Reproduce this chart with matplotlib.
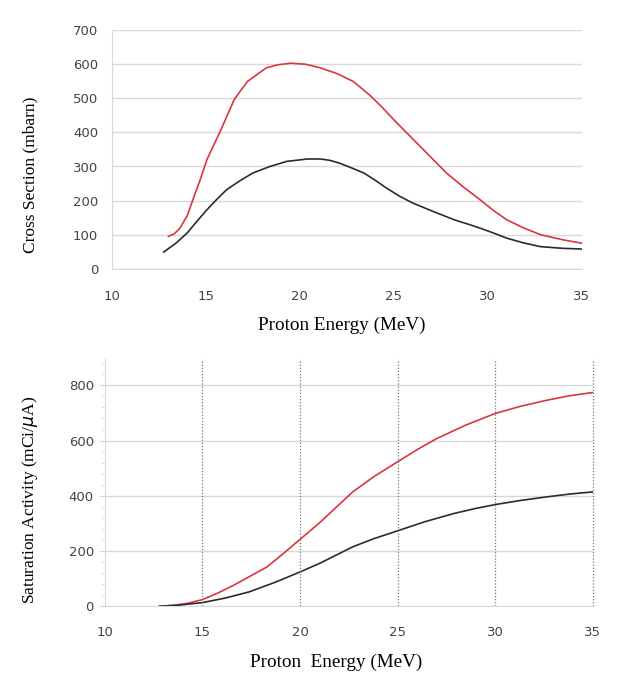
import numpy as np
import matplotlib
matplotlib.use("Agg")
import matplotlib.pyplot as plt
from matplotlib.ticker import MultipleLocator

# cross section data
xs_red_E = [13.0, 13.3, 13.6, 14.0, 14.3, 14.7, 15.05, 15.8, 16.5, 17.2, 18.2, 18.8, 19.5, 20.3, 21.1, 22.0,
            22.85, 23.7, 24.3, 25.0, 25.7, 26.4, 27.1, 27.8, 28.7, 29.6, 30.3, 31.0, 31.9, 32.8, 34.0, 35.0]
xs_red = [95, 102, 118, 155, 202, 262, 320, 408, 496, 549, 589, 598, 603, 600, 589, 572,
          549, 510, 478, 437, 398, 359, 320, 281, 240, 202, 171, 144, 120, 100, 85, 75]
xs_blk_E = [12.75, 13.4, 14.0, 14.5, 15.05, 15.6, 16.1, 16.8, 17.5, 18.4, 19.3, 20.4, 21.1, 21.6, 22.1, 22.7,
            23.4, 24.0, 24.6, 25.3, 26.0, 27.1, 28.2, 29.0, 29.6, 30.3, 31.0, 31.9, 32.8, 34.0, 35.0]
xs_blk = [49, 75, 105, 138, 173, 205, 232, 258, 281, 300, 315, 322, 322, 318, 310, 297,
          281, 260, 237, 213, 193, 168, 144, 130, 119, 105, 90, 76, 65, 60, 58]

# saturation activity data
sa_red_E = [12.8, 13.5, 14.2, 15.0, 15.8, 16.6, 17.4, 18.3, 19.1, 20.0, 21.0, 22.7, 23.8, 25.0, 26.0, 27.0,
            28.5, 30.0, 31.3, 32.65, 33.8, 35.0]
sa_red = [0, 3, 10, 24, 48, 76, 107, 142, 188, 242, 302, 414, 470, 523, 567, 607,
          656, 698, 724, 746, 762, 774]
sa_blk_E = [12.8, 13.8, 15.0, 16.2, 17.4, 18.7, 20.0, 21.0, 22.7, 23.8, 25.0, 26.4, 27.9, 29.0, 30.0,
            31.3, 32.65, 33.8, 35.0]
sa_blk = [0, 4, 13, 30, 52, 86, 124, 155, 215, 245, 273, 306, 336, 354, 368,
          383, 396, 406, 414]

RED = '#d9363e'
BLK = '#2b2b2b'
GRID = '#d9d9d9'
TICKC = '#444444'
serif = 'Liberation Serif'

fig = plt.figure(figsize=(6.4, 7), dpi=100)

# ---- top: cross section
ax1 = fig.add_axes([0.175, 0.616, 0.734, 0.341])
ax1.plot(xs_red_E, xs_red, color=RED, lw=1.2)
ax1.plot(xs_blk_E, xs_blk, color=BLK, lw=1.2)
ax1.set_xlim(10, 35)
ax1.set_ylim(0, 700)
ax1.set_xticks(range(10, 36, 5))
ax1.set_yticks(range(0, 701, 100))
ax1.grid(axis='y', color=GRID, lw=1)
ax1.set_axisbelow(True)
for s in ['top', 'right']:
    ax1.spines[s].set_visible(False)
for s in ['left', 'bottom']:
    ax1.spines[s].set_color(GRID)
ax1.tick_params(length=0, labelsize=9.5, colors=TICKC, pad=15)
ax1.tick_params(axis='y', pad=10)
ax1.set_xlabel('Proton Energy (MeV)', family=serif, fontsize=13.8)
ax1.set_ylabel('Cross Section (mbarn)', family=serif, fontsize=12.5)
ax1.xaxis.set_label_coords(0.49, -0.20)
ax1.yaxis.set_label_coords(-0.157, 0.393)

# ---- bottom: saturation activity
ax2 = fig.add_axes([0.164, 0.134, 0.762, 0.353])
ax2.plot(sa_red_E, sa_red, color=RED, lw=1.2)
ax2.plot(sa_blk_E, sa_blk, color=BLK, lw=1.2)
ax2.set_xlim(10, 35)
ax2.set_ylim(0, 895)
ax2.set_xticks(range(10, 36, 5))
ax2.set_yticks(range(0, 801, 200))
ax2.yaxis.set_minor_locator(MultipleLocator(40))
ax2.grid(axis='y', color=GRID, lw=1)
for x in range(15, 36, 5):
    ax2.axvline(x, color='#777777', lw=0.9, ls=(0, (1, 1.5)), clip_on=False)
ax2.set_axisbelow(True)
for s in ['top', 'right']:
    ax2.spines[s].set_visible(False)
for s in ['left', 'bottom']:
    ax2.spines[s].set_color(GRID)
ax2.tick_params(axis='y', which='major', length=4, color=GRID, labelsize=9.5, labelcolor=TICKC, pad=4)
ax2.tick_params(axis='y', which='minor', length=3, color=GRID)
ax2.tick_params(axis='x', length=0, labelsize=9.5, labelcolor=TICKC, pad=14)
ax2.set_xlabel('Proton  Energy (MeV)', family=serif, fontsize=13.8)
ax2.set_ylabel(r'Saturation Activity (mCi/$\mu$A)', family=serif, fontsize=12.5)
ax2.xaxis.set_label_coords(0.473, -0.194)
ax2.yaxis.set_label_coords(-0.133, 0.429)

fig.savefig('out.png', dpi=100)
